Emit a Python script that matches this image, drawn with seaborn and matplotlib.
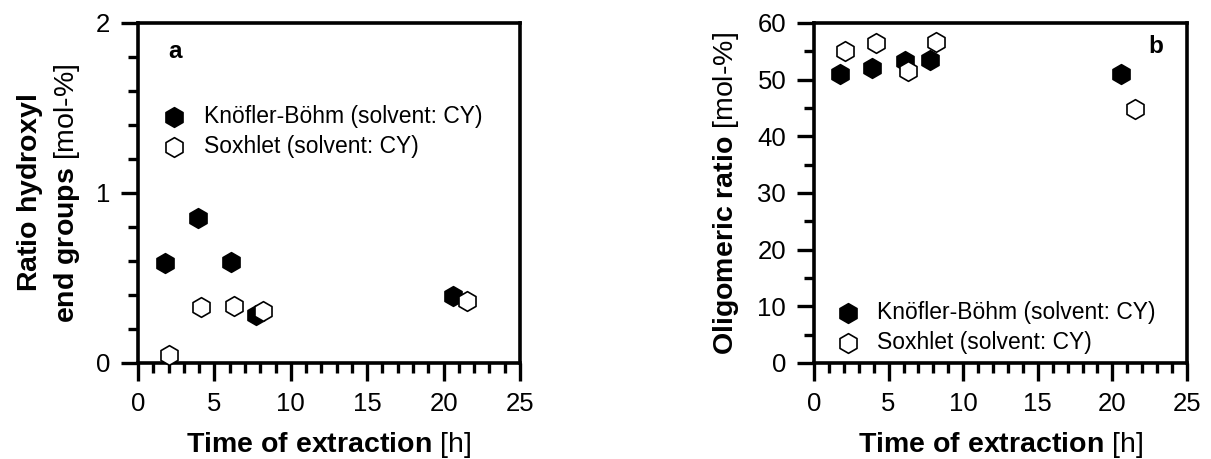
import numpy as np
import pandas as pd
import matplotlib
matplotlib.use("Agg")
import matplotlib.pyplot as plt
import seaborn as sns
from matplotlib.ticker import MultipleLocator

# ---- data ----
time_kb = [1.75, 3.9, 6.1, 7.75, 20.6]
time_sox = [2.05, 4.15, 6.3, 8.2, 21.5]
hydroxyl_kb = [0.59, 0.855, 0.595, 0.285, 0.392]
hydroxyl_sox = [0.05, 0.33, 0.335, 0.308, 0.366]
oligo_kb = [51.0, 52.0, 53.3, 53.5, 51.0]
oligo_sox = [55.1, 56.4, 51.6, 56.6, 44.9]
label_kb = "Knöfler-Böhm (solvent: CY)"
label_sox = "Soxhlet (solvent: CY)"

sns.set_style("ticks")
plt.rcParams["font.family"] = ["Liberation Sans", "DejaVu Sans"]
plt.rcParams["mathtext.fontset"] = "custom"
plt.rcParams["mathtext.rm"] = "Liberation Sans"
plt.rcParams["mathtext.bf"] = "Liberation Sans:bold"
plt.rcParams["mathtext.it"] = "Liberation Sans:italic"
plt.rcParams["text.color"] = "black"
plt.rcParams["axes.labelcolor"] = "black"
plt.rcParams["xtick.color"] = "black"
plt.rcParams["ytick.color"] = "black"

fig = plt.figure(figsize=(12.11, 4.59), dpi=100)
ax1 = fig.add_axes([138/1211, 1-363/459, 382/1211, 340/459])
ax2 = fig.add_axes([814/1211, 1-363/459, 373/1211, 340/459])

df_kb = pd.DataFrame({"t": time_kb, "h": hydroxyl_kb, "o": oligo_kb})
df_sox = pd.DataFrame({"t": time_sox, "h": hydroxyl_sox, "o": oligo_sox})

ms = 200
for ax, col in [(ax1, "h"), (ax2, "o")]:
    sns.scatterplot(data=df_kb, x="t", y=col, ax=ax, marker="h", s=ms,
                    color="black", edgecolor="black", linewidth=1.2,
                    label=label_kb, zorder=3, clip_on=False)
    sns.scatterplot(data=df_sox, x="t", y=col, ax=ax, marker="h", s=ms,
                    facecolor="white", edgecolor="black", linewidth=1.2,
                    label=label_sox, zorder=4, clip_on=False)

def style(ax, ymax, ymajor, yminor):
    ax.set_xlim(0, 25)
    ax.set_ylim(0, ymax)
    ax.xaxis.set_major_locator(MultipleLocator(5))
    ax.xaxis.set_minor_locator(MultipleLocator(1))
    ax.yaxis.set_major_locator(MultipleLocator(ymajor))
    ax.yaxis.set_minor_locator(MultipleLocator(yminor))
    for s in ax.spines.values():
        s.set_visible(True)
        s.set_linewidth(2.6)
        s.set_color("black")
    ax.tick_params(axis="x", which="major", direction="out", length=13, width=2.4,
                   labelsize=18.5, pad=8)
    ax.tick_params(axis="x", which="minor", direction="out", length=7.5, width=2.4)
    ax.tick_params(axis="y", which="major", direction="out", length=12, width=2.4,
                   labelsize=18.5, pad=8)
    ax.tick_params(axis="y", which="minor", direction="out", length=7.5, width=2.4)
    ax.set_xlabel(r"$\mathbf{Time\ of\ extraction}$ [h]", fontsize=20.5, labelpad=10)

style(ax1, 2, 1, 0.2)
style(ax2, 60, 10, 5)

ax1.set_ylabel(r"$\mathbf{Ratio\ hydroxyl}$" + "\n" + r"$\mathbf{end\ groups}$ [mol-%]",
               fontsize=20.5, labelpad=10, linespacing=1.3)
ax2.set_ylabel(r"$\mathbf{Oligomeric\ ratio}$ [mol-%]", fontsize=20.5, labelpad=12)

ax1.text(0.097, 0.915, "a", transform=ax1.transAxes, fontsize=17.5,
         fontweight="bold", ha="center", va="center")
ax2.text(0.915, 0.93, "b", transform=ax2.transAxes, fontsize=17.5,
         fontweight="bold", ha="center", va="center")

leg1 = ax1.legend(loc="upper left", bbox_to_anchor=(0.04, 0.785), frameon=False,
                  fontsize=16.5, handletextpad=0.8, labelspacing=0.3,
                  borderaxespad=0, handlelength=1.0)
leg2 = ax2.legend(loc="lower left", bbox_to_anchor=(0.035, 0.0), frameon=False,
                  fontsize=16.5, handletextpad=0.8, labelspacing=0.3,
                  borderaxespad=0, handlelength=1.0)

fig.savefig("out.png", dpi=100)
